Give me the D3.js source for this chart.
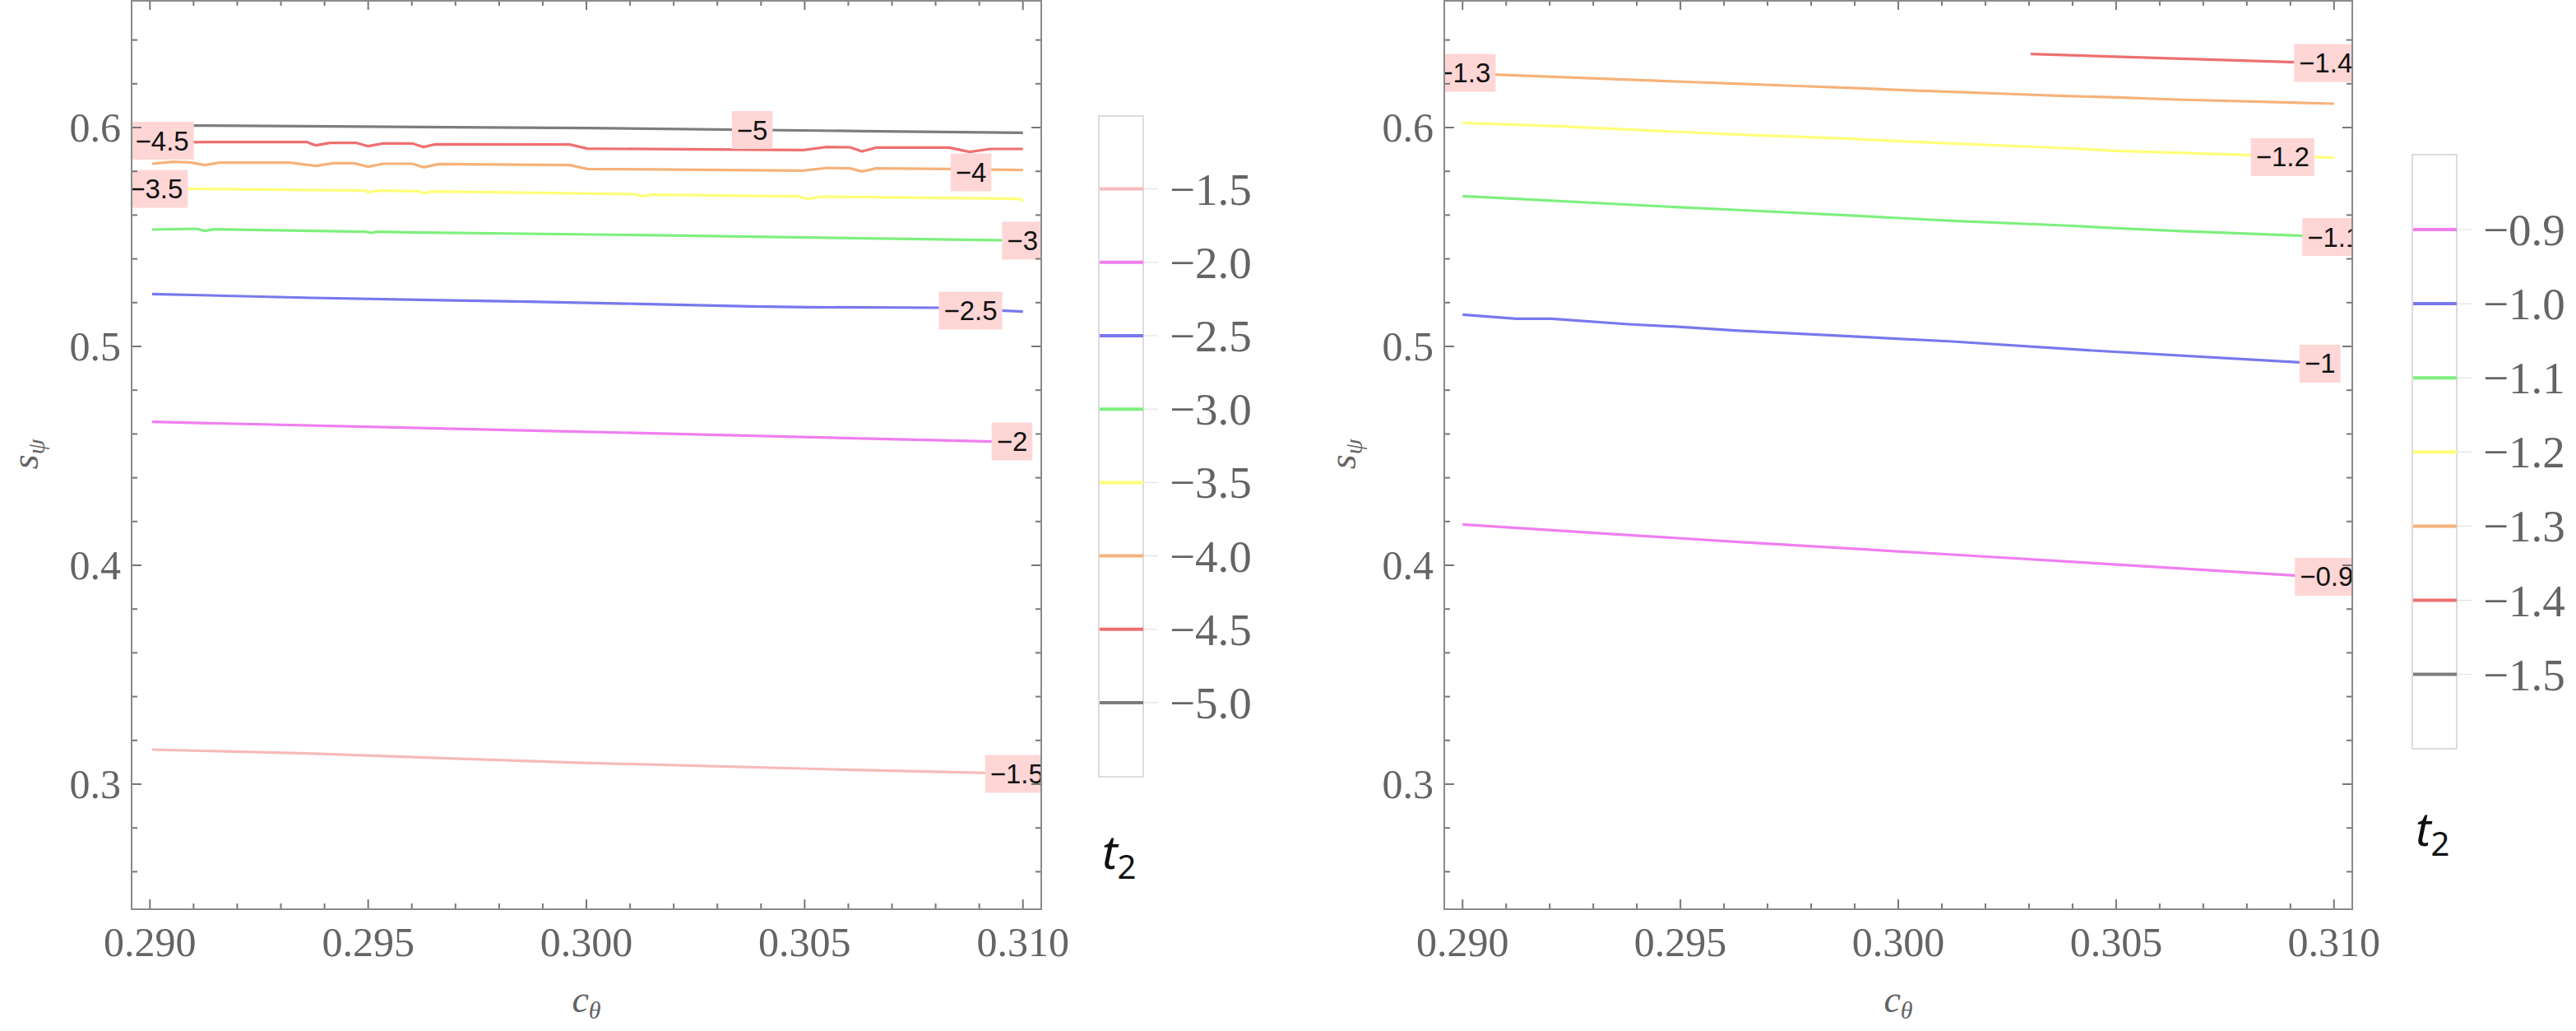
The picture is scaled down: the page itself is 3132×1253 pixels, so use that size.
<!DOCTYPE html>
<html><head><meta charset="utf-8">
<script src="https://cdn.jsdelivr.net/npm/d3@7/dist/d3.min.js"></script>
<style>body{margin:0;background:#fff}</style></head>
<body>
<svg id="c" width="3132" height="1253" xmlns="http://www.w3.org/2000/svg"></svg>
<script>
// ---------- data ----------
const xDomain = [0.28958, 0.31042];
const yDomain = [0.24286, 0.65827];
const xMajorTicks = [0.290, 0.295, 0.300, 0.305, 0.310];
const yMajorTicks = [0.3, 0.4, 0.5, 0.6];

// left panel contours  [c_theta, s_psi]
const L_m50 = [[0.290,0.6010],[0.29119,0.6009],[0.29494,0.6004],[0.30002,0.59975],[0.30631,0.59838],[0.310,0.59763]];
const L_m45 = [[0.290,0.5931],[0.29132,0.59336],[0.29360,0.59336],[0.29380,0.59185],[0.29413,0.59298],[0.29474,0.59298],[0.29500,0.59148],[0.29534,0.59273],[0.29601,0.59273],[0.29627,0.59110],[0.29654,0.59236],[0.29962,0.59223],[0.30002,0.59035],[0.30497,0.58972],[0.30551,0.59110],[0.30604,0.59098],[0.30631,0.58910],[0.30664,0.59085],[0.30831,0.59085],[0.30878,0.58885],[0.30925,0.59023],[0.310,0.59023]];
const L_m40 = [[0.29005,0.58346],[0.29052,0.58434],[0.29092,0.58409],[0.29126,0.58283],[0.29159,0.58396],[0.29320,0.58396],[0.29380,0.58246],[0.29420,0.58371],[0.29467,0.58371],[0.29500,0.58208],[0.29534,0.58346],[0.29601,0.58346],[0.29627,0.58183],[0.29661,0.58333],[0.29962,0.58283],[0.30002,0.58108],[0.30497,0.58033],[0.30551,0.58158],[0.30604,0.58133],[0.30631,0.57995],[0.30664,0.58133],[0.30831,0.58108],[0.310,0.58058]];
const L_m35 = [[0.290,0.5722],[0.29086,0.57206],[0.29494,0.57118],[0.29500,0.57030],[0.29520,0.57118],[0.29614,0.57093],[0.29627,0.57005],[0.29647,0.57080],[0.30109,0.56955],[0.30129,0.56855],[0.30149,0.56930],[0.30484,0.56855],[0.30510,0.56729],[0.30537,0.56842],[0.30992,0.56742],[0.310,0.56629]];
const L_m30 = [[0.29005,0.55338],[0.29106,0.55376],[0.29126,0.55276],[0.29146,0.55351],[0.29494,0.55238],[0.29507,0.55188],[0.29520,0.55238],[0.29627,0.55200],[0.30122,0.55088],[0.310,0.54837]];
const L_m25 = [[0.29005,0.52394],[0.29373,0.52218],[0.29868,0.52041],[0.30122,0.51943],[0.30377,0.51830],[0.30510,0.51792],[0.30805,0.51767],[0.310,0.51590]];
const L_m20 = [[0.29005,0.46553],[0.29962,0.46117],[0.30932,0.45650],[0.310,0.45618]];
const L_m15 = [[0.29005,0.31579],[0.29360,0.31403],[0.29962,0.30990],[0.30564,0.30677],[0.30918,0.30514],[0.310,0.30477]];

// right panel contours
const R_m14 = [[0.30304,0.63358],[0.30912,0.62982],[0.310,0.62928]];
const R_m13 = [[0.290,0.62474],[0.29073,0.62419],[0.29489,0.62105],[0.29624,0.62005],[0.29745,0.61917],[0.29881,0.61817],[0.30002,0.61717],[0.30124,0.61629],[0.30246,0.61541],[0.30381,0.61441],[0.30503,0.61378],[0.30638,0.61278],[0.310,0.61090]];
const R_m12 = [[0.290,0.60213],[0.29218,0.60063],[0.29489,0.59812],[0.29624,0.59687],[0.29881,0.59499],[0.30002,0.59373],[0.30124,0.59273],[0.30381,0.59060],[0.30503,0.58935],[0.30638,0.58847],[0.310,0.58622]];
const R_m11 = [[0.290,0.56867],[0.29123,0.56742],[0.29489,0.56366],[0.29624,0.56241],[0.29881,0.55990],[0.30002,0.55865],[0.30124,0.55740],[0.30381,0.55526],[0.30503,0.55401],[0.30638,0.55276],[0.30935,0.55050],[0.310,0.55000]];
const R_m10 = [[0.290,0.51455],[0.29123,0.51267],[0.29204,0.51267],[0.29380,0.51015],[0.29502,0.50890],[0.29624,0.50726],[0.30124,0.50226],[0.30435,0.49824],[0.30922,0.49273],[0.310,0.49185]];
const R_m09 = [[0.290,0.41868],[0.29353,0.41417],[0.29624,0.41079],[0.30124,0.40489],[0.30571,0.39951],[0.30909,0.39537],[0.310,0.39426]];

const colPink="#f6baba", colMag="#f07ef0", colBlue="#7878ee", colGreen="#7ef07e",
      colYellow="#ffff7a", colOrange="#f6b27a", colRed="#ee7070", colGray="#7d7d7d";

const leftLevels  = ["−1.5","−2.0","−2.5","−3.0","−3.5","−4.0","−4.5","−5.0"];
const leftColors  = [colPink,colMag,colBlue,colGreen,colYellow,colOrange,colRed,colGray];
const leftCurves  = [L_m15,L_m20,L_m25,L_m30,L_m35,L_m40,L_m45,L_m50];
const rightLevels = ["−0.9","−1.0","−1.1","−1.2","−1.3","−1.4","−1.5"];
const rightColors = [colMag,colBlue,colGreen,colYellow,colOrange,colRed,colGray];
const rightCurves = [R_m09,R_m10,R_m11,R_m12,R_m13,R_m14];

// contour labels [c_theta, s_psi, text]
const leftLabels = [[0.30380,0.59887,"−5"],[0.29028,0.59398,"−4.5"],[0.30881,0.57951,"−4"],[0.29014,0.57199,"−3.5"],
  [0.30999,0.54831,"−3"],[0.30880,0.51635,"−2.5"],[0.30975,0.45658,"−2"],[0.30986,0.30470,"−1.5"]];
const rightLabels = [[0.30981,0.62951,"−1.4"],[0.29003,0.62500,"−1.3"],[0.30882,0.58647,"−1.2"],[0.31000,0.55000,"−1.1"],
  [0.30968,0.49211,"−1"],[0.30983,0.39474,"−0.9"]];

// ---------- drawing ----------
const svg = d3.select("#c");
const TXT = "#646464", FRAME = "#8a8a8a", SERIF = "'Liberation Serif','Times New Roman',serif";

function panel(id, x0, x1, curves, colors, labels, ylx) {
  const y0 = 0, y1 = 1105;
  const x = d3.scaleLinear().domain(xDomain).range([x0, x1]);
  const y = d3.scaleLinear().domain(yDomain).range([y1, y0]);
  const g = svg.append("g");
  const cp = svg.append("defs").append("clipPath").attr("id", "clip" + id);
  cp.append("rect").attr("x", x0).attr("y", y0).attr("width", x1 - x0).attr("height", y1 - y0);

  const pg = g.append("g").attr("clip-path", `url(#clip${id})`);
  const line = d3.line().x(d => x(d[0])).y(d => y(d[1]));
  curves.forEach((c, i) => {
    pg.append("path").attr("d", line(c)).attr("fill", "none")
      .attr("stroke", colors[i]).attr("stroke-width", 3.2).attr("stroke-linejoin", "round");
  });
  labels.forEach(l => {
    const t = pg.append("text").attr("x", x(l[0])).attr("y", y(l[1]) + 11.5)
      .attr("text-anchor", "middle").attr("font-family", "'Liberation Sans',Arial,sans-serif")
      .attr("font-size", 33).attr("fill", "#111").text(l[2]);
    const w = t.node().getComputedTextLength();
    pg.insert("rect", () => t.node()).attr("x", x(l[0]) - w / 2 - 6).attr("y", y(l[1]) - 23)
      .attr("width", w + 12).attr("height", 46).attr("fill", "#ffd6d6");
  });

  // ticks
  const xMinor = d3.range(0.290, 0.3105, 0.001).filter(v => !xMajorTicks.some(m => Math.abs(m - v) < 1e-6));
  const yMinor = d3.range(0.26, 0.65, 0.02).filter(v => !yMajorTicks.some(m => Math.abs(m - v) < 1e-6));
  const tk = g.append("g").attr("stroke", "#777").attr("stroke-width", 2);
  xMajorTicks.forEach(v => { tk.append("line").attr("x1", x(v)).attr("x2", x(v)).attr("y1", y1).attr("y2", y1 - 12);
                             tk.append("line").attr("x1", x(v)).attr("x2", x(v)).attr("y1", y0).attr("y2", y0 + 12); });
  xMinor.forEach(v => { tk.append("line").attr("x1", x(v)).attr("x2", x(v)).attr("y1", y1).attr("y2", y1 - 7);
                        tk.append("line").attr("x1", x(v)).attr("x2", x(v)).attr("y1", y0).attr("y2", y0 + 7); });
  yMajorTicks.forEach(v => { tk.append("line").attr("y1", y(v)).attr("y2", y(v)).attr("x1", x0).attr("x2", x0 + 12);
                             tk.append("line").attr("y1", y(v)).attr("y2", y(v)).attr("x1", x1).attr("x2", x1 - 12); });
  yMinor.forEach(v => { tk.append("line").attr("y1", y(v)).attr("y2", y(v)).attr("x1", x0).attr("x2", x0 + 7);
                        tk.append("line").attr("y1", y(v)).attr("y2", y(v)).attr("x1", x1).attr("x2", x1 - 7); });
  g.append("rect").attr("x", x0).attr("y", y0 + 1).attr("width", x1 - x0).attr("height", y1 - y0 - 1)
    .attr("fill", "none").attr("stroke", FRAME).attr("stroke-width", 2);

  // tick labels
  xMajorTicks.forEach(v => g.append("text").attr("x", x(v)).attr("y", 1162).attr("text-anchor", "middle")
    .attr("font-family", SERIF).attr("font-size", 50).attr("fill", TXT).text(d3.format(".3f")(v)));
  yMajorTicks.forEach(v => g.append("text").attr("x", x0 - 13).attr("y", y(v) + 17).attr("text-anchor", "end")
    .attr("font-family", SERIF).attr("font-size", 50).attr("fill", TXT).text(d3.format(".1f")(v)));

  // axis labels
  const xl = g.append("text").attr("x", (x0 + x1) / 2).attr("y", 1230).attr("text-anchor", "middle")
    .attr("font-family", SERIF).attr("font-style", "italic").attr("fill", TXT).attr("font-size", 46);
  xl.append("tspan").text("c");
  xl.append("tspan").attr("font-size", 30).attr("dy", 8).text("θ");
  const yl = g.append("text").attr("transform", `translate(${ylx},552) rotate(-90)`).attr("text-anchor", "middle")
    .attr("font-family", SERIF).attr("font-style", "italic").attr("fill", TXT).attr("font-size", 46);
  yl.append("tspan").text("s");
  yl.append("tspan").attr("font-size", 30).attr("dy", 8).text("ψ");
}

function legend(bx, by, bh, entryY0, step, levels, colors, tY) {
  const g = svg.append("g");
  g.append("rect").attr("x", bx).attr("y", by).attr("width", 54).attr("height", bh)
    .attr("fill", "#fff").attr("stroke", "#dcdcdc").attr("stroke-width", 2);
  levels.forEach((lv, i) => {
    const yy = entryY0 + i * step;
    g.append("line").attr("x1", bx + 54).attr("x2", bx + 72).attr("y1", yy).attr("y2", yy)
      .attr("stroke", "#dddddd").attr("stroke-width", 1);
    g.append("line").attr("x1", bx + 1).attr("x2", bx + 54).attr("y1", yy).attr("y2", yy)
      .attr("stroke", colors[i]).attr("stroke-width", 4);
    g.append("text").attr("x", bx + 86).attr("y", yy + 19).attr("font-family", SERIF)
      .attr("font-size", 55).attr("fill", TXT).text(lv);
  });
  const t = g.append("text").attr("x", bx + 4).attr("y", tY).attr("font-family", "'Noto Sans','Open Sans',sans-serif")
    .attr("font-size", 56).attr("fill", "#111");
  t.append("tspan").attr("font-style", "italic").text("t");
  t.append("tspan").attr("font-size", 40).attr("dy", 12).text("2");
}

panel("L", 160, 1266, leftCurves, leftColors, leftLabels, 46);
panel("R", 1756, 2860, rightCurves, rightColors, rightLabels, 1648);
legend(1336, 141, 803, 229.6, 89.2, leftLevels, leftColors, 1056);
legend(2933, 188, 722, 279, 90.1, rightLevels, rightColors, 1028);
</script>
</body></html>
